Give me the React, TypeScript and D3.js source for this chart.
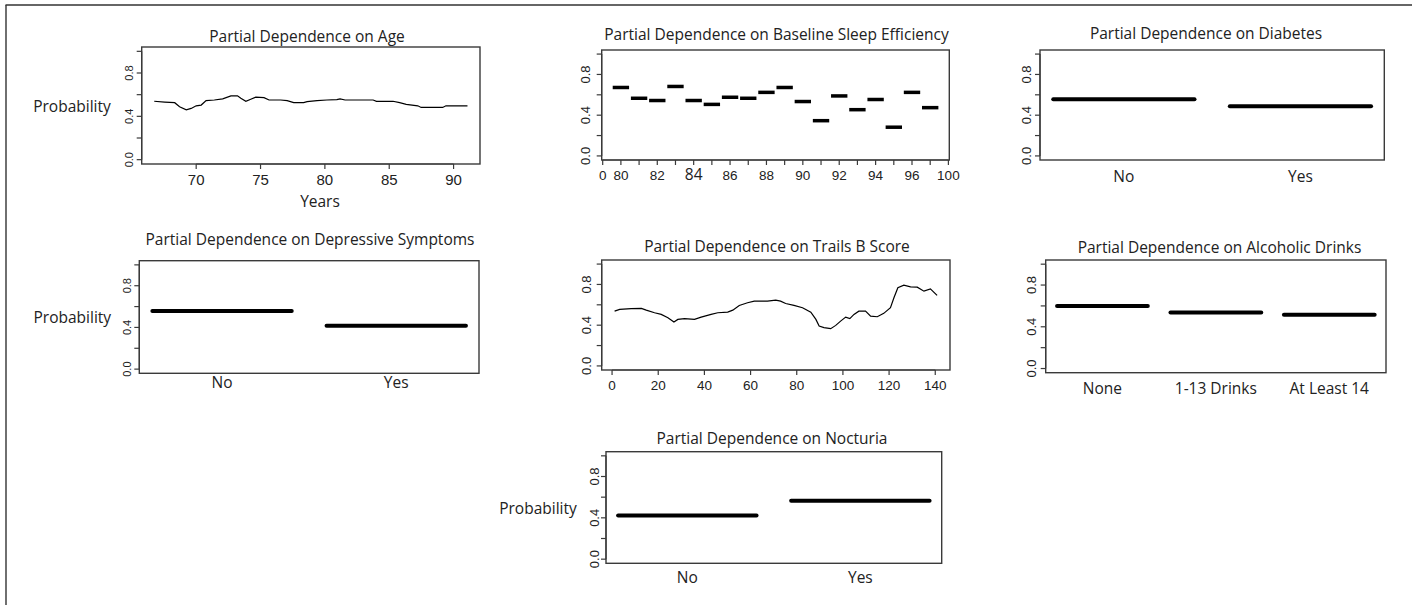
import React from "react";
import * as d3 from "d3";

// ---------- data ----------
const ageYears = [66.74, 67.55, 68.33, 68.71, 69.23, 69.61, 70.0, 70.39, 70.77, 71.41, 72.06, 72.7, 73.21, 73.47, 73.86, 74.24, 74.63, 75.27, 75.66, 76.56, 77.07, 77.58, 78.35, 78.62, 79.39, 80.16, 80.93, 81.18, 81.57, 83.75, 84.01, 85.29, 85.81, 86.32, 87.22, 87.48, 89.15, 89.41, 91.08];
const ageProb = [0.539, 0.532, 0.526, 0.488, 0.46, 0.473, 0.497, 0.504, 0.545, 0.551, 0.561, 0.589, 0.589, 0.567, 0.539, 0.558, 0.577, 0.573, 0.551, 0.551, 0.545, 0.526, 0.526, 0.535, 0.545, 0.551, 0.554, 0.561, 0.551, 0.551, 0.539, 0.539, 0.526, 0.511, 0.497, 0.482, 0.482, 0.497, 0.497];
const ageTicks = [70, 75, 80, 85, 90];

const sleepLevels = [1, 2, 3, 4, 5, 6, 7, 8, 9, 10, 11, 12, 13, 14, 15, 16, 17, 18];
const sleepProb = [0.672, 0.566, 0.544, 0.682, 0.544, 0.506, 0.576, 0.566, 0.624, 0.672, 0.534, 0.346, 0.589, 0.454, 0.554, 0.282, 0.624, 0.474];
const sleepTicks = [0, 1, 2, 3, 4, 5, 6, 7, 8, 9, 10, 11, 12, 13, 14, 15, 16, 17, 18, 19];
const sleepTickLabels = ["0", "80", "", "82", "", "84", "", "86", "", "88", "", "90", "", "92", "", "94", "", "96", "", "100"];

const diabetesCats = ["No", "Yes"];
const diabetesProb = [0.556, 0.487];

const depressCats = ["No", "Yes"];
const depressProb = [0.558, 0.416];

const trailsScore = [1.1, 3.3, 8.3, 12.7, 14.8, 18.4, 21.3, 24.2, 26.8, 28.5, 31.4, 35.7, 38.6, 42.9, 45.8, 50.1, 52.3, 55.1, 58.7, 61.6, 67.3, 70.9, 73.0, 75.2, 78.8, 82.5, 86.1, 88.3, 89.7, 91.8, 94.7, 96.9, 99.0, 101.2, 103.0, 104.8, 106.9, 109.8, 112.0, 114.9, 117.7, 120.6, 122.1, 123.8, 126.4, 129.3, 132.2, 135.1, 137.9, 140.8];
const trailsProb = [0.538, 0.555, 0.562, 0.565, 0.548, 0.522, 0.506, 0.474, 0.431, 0.457, 0.464, 0.457, 0.479, 0.506, 0.522, 0.528, 0.548, 0.594, 0.62, 0.636, 0.636, 0.646, 0.636, 0.613, 0.594, 0.571, 0.528, 0.457, 0.391, 0.376, 0.366, 0.398, 0.44, 0.479, 0.464, 0.506, 0.538, 0.538, 0.489, 0.483, 0.516, 0.571, 0.669, 0.767, 0.793, 0.777, 0.773, 0.734, 0.757, 0.692];
const trailsTicks = [0, 20, 40, 60, 80, 100, 120, 140];

const alcoholCats = ["None", "1-13 Drinks", "At Least 14"];
const alcoholProb = [0.6, 0.537, 0.515];

const nocturiaCats = ["No", "Yes"];
const nocturiaProb = [0.422, 0.565];

const yTicks = [0, 0.2, 0.4, 0.6, 0.8, 1.0];
const yLabelTicks = [0, 0.4, 0.8];

// ---------- styling ----------
const SANS = "'Open Sans', sans-serif";
const ARIAL = "'Liberation Sans', Arial, sans-serif";
const TXT = "#222";
const BOX = "#3a3a3a";

type Box = { x0: number; y0: number; x1: number; y1: number };

function extendR(ext: [number, number]): [number, number] {
  const d = (ext[1] - ext[0]) * 0.04;
  return [ext[0] - d, ext[1] + d];
}

function Frame({ box, title, titleX, titleY, yLabelDx, yFont, ylab, ylabX, children }: any) {
  const y = d3.scaleLinear().domain([-0.04, 1.04]).range([box.y1, box.y0]);
  return (
    <g>
      <text x={titleX} y={titleY} textAnchor="middle" fontFamily={SANS} fontSize={15.5} fill={TXT}>{title}</text>
      <rect x={box.x0} y={box.y0} width={box.x1 - box.x0} height={box.y1 - box.y0} fill="none" stroke={BOX} strokeWidth={1.4} />
      <line x1={box.x0} x2={box.x0} y1={y(0)} y2={y(1)} stroke={BOX} strokeWidth={1.2} />
      {yTicks.map((t) => (
        <line key={t} x1={box.x0 - 5} x2={box.x0} y1={y(t)} y2={y(t)} stroke={BOX} strokeWidth={1.2} />
      ))}
      {yLabelTicks.map((t) => (
        <text key={t} transform={`translate(${box.x0 + yLabelDx},${y(t)}) rotate(-90)`} textAnchor="middle" dominantBaseline="central" fontFamily={ARIAL} fontSize={yFont} fill={TXT}>{t.toFixed(1)}</text>
      ))}
      {ylab && (
        <text x={ylabX} y={(y(0.4) + y(0.6)) / 2} textAnchor="middle" dominantBaseline="central" fontFamily={SANS} fontSize={15.5} fill={TXT}>Probability</text>
      )}
      {children(y)}
    </g>
  );
}

function NumXAxis({ box, x, ticks, labels, font, labelDy, special }: any) {
  return (
    <g>
      <line x1={x(ticks[0])} x2={x(ticks[ticks.length - 1])} y1={box.y1} y2={box.y1} stroke={BOX} strokeWidth={1.2} />
      {ticks.map((t: number, i: number) => (
        <g key={i}>
          <line x1={x(t)} x2={x(t)} y1={box.y1} y2={box.y1 + 5} stroke={BOX} strokeWidth={1.2} />
          <text x={x(t)} y={box.y1 + labelDy} textAnchor="middle" fontFamily={special && labels[i] === special ? SANS : ARIAL} fontSize={special && labels[i] === special ? font + 2 : font} fill={TXT}>{labels[i]}</text>
        </g>
      ))}
    </g>
  );
}

function CatPanel({ box, cats, vals, title, titleX, titleY, yLabelDx, yFont, ylab, ylabX, labelDy, padOuter }: any) {
  const x = d3.scaleBand<string>().domain(cats).range([box.x0, box.x1]).paddingInner(0.2).paddingOuter(padOuter);
  return (
    <Frame box={box} title={title} titleX={titleX} titleY={titleY} yLabelDx={yLabelDx} yFont={yFont} ylab={ylab} ylabX={ylabX}>
      {(y: any) => (
        <g>
          {cats.map((c: string, i: number) => (
            <g key={c}>
              <line x1={x(c)!} x2={x(c)! + x.bandwidth()} y1={y(vals[i])} y2={y(vals[i])} stroke="#000" strokeWidth={4} strokeLinecap="round" />
              <text x={x(c)! + x.bandwidth() / 2} y={box.y1 + labelDy} textAnchor="middle" fontFamily={SANS} fontSize={15.5} fill={TXT}>{c}</text>
            </g>
          ))}
        </g>
      )}
    </Frame>
  );
}

export default function App() {
  // Panel 1: Age
  const b1: Box = { x0: 141.7, y0: 47, x1: 480, y1: 164 };
  const x1 = d3.scaleLinear().domain(extendR(d3.extent(ageYears) as [number, number])).range([b1.x0, b1.x1]);
  // Panel 2: sleep efficiency
  const b2: Box = { x0: 601.7, y0: 50, x1: 949.3, y1: 160 };
  const x2 = d3.scaleLinear().domain([-0.055, 19.05]).range([b2.x0, b2.x1]);
  // Panel 3: diabetes
  const b3: Box = { x0: 1040, y0: 50, x1: 1384.3, y1: 160 };
  // Panel 4: depressive
  const b4: Box = { x0: 139.3, y0: 260.7, x1: 479, y1: 373.3 };
  // Panel 5: trails
  const b5: Box = { x0: 601.7, y0: 260, x1: 950, y1: 370 };
  const x5 = d3.scaleLinear().domain(extendR(d3.extent(trailsScore) as [number, number])).range([b5.x0, b5.x1]);
  // Panel 6: alcohol
  const b6: Box = { x0: 1045.7, y0: 260, x1: 1386, y1: 372.7 };
  // Panel 7: nocturia
  const b7: Box = { x0: 606, y0: 451.7, x1: 941.7, y1: 563.3 };

  return (
    <svg width={1412} height={605} style={{ position: "absolute", left: 0, top: 0, background: "#fff" }}>
      <rect x={0} y={0} width={1412} height={605} fill="#fff" />
      <line x1={5.5} x2={1412} y1={5} y2={5} stroke="#333" strokeWidth={1.4} />
      <line x1={6} x2={6} y1={5} y2={605} stroke="#333" strokeWidth={1.4} />

      <Frame box={b1} title="Partial Dependence on Age" titleX={307} titleY={42} yLabelDx={-12.4} yFont={11} ylab ylabX={72}>
        {(y: any) => {
          const line = d3.line<number>().x((_, i) => x1(ageYears[i])).y((d) => y(d));
          return (
            <g>
              <path d={line(ageProb)!} fill="none" stroke="#000" strokeWidth={1.2} />
              <NumXAxis box={b1} x={x1} ticks={ageTicks} labels={ageTicks.map(String)} font={15} labelDy={21} />
              <text x={320} y={207} textAnchor="middle" fontFamily={SANS} fontSize={15.5} fill={TXT}>Years</text>
            </g>
          );
        }}
      </Frame>

      <Frame box={b2} title="Partial Dependence on Baseline Sleep Efficiency" titleX={776.5} titleY={40} yLabelDx={-16} yFont={13} ylab={false}>
        {(y: any) => (
          <g>
            {sleepLevels.map((lv, i) => (
              <line key={lv} x1={x2(lv - 0.45)} x2={x2(lv + 0.45)} y1={y(sleepProb[i])} y2={y(sleepProb[i])} stroke="#000" strokeWidth={3.5} />
            ))}
            <NumXAxis box={b2} x={x2} ticks={sleepTicks} labels={sleepTickLabels} font={13.5} labelDy={20} special="84" />
          </g>
        )}
      </Frame>

      <CatPanel box={b3} cats={diabetesCats} vals={diabetesProb} title="Partial Dependence on Diabetes" titleX={1206} titleY={39} yLabelDx={-14} yFont={13} ylab={false} labelDy={22} padOuter={0.075} />

      <CatPanel box={b4} cats={depressCats} vals={depressProb} title="Partial Dependence on Depressive Symptoms" titleX={310} titleY={245} yLabelDx={-12.6} yFont={11} ylab ylabX={72.3} labelDy={15} padOuter={0.075} />

      <Frame box={b5} title="Partial Dependence on Trails B Score" titleX={777} titleY={251.7} yLabelDx={-15.7} yFont={13} ylab={false}>
        {(y: any) => {
          const line = d3.line<number>().x((_, i) => x5(trailsScore[i])).y((d) => y(d));
          return (
            <g>
              <path d={line(trailsProb)!} fill="none" stroke="#000" strokeWidth={1.2} />
              <NumXAxis box={b5} x={x5} ticks={trailsTicks} labels={trailsTicks.map(String)} font={13.5} labelDy={20} />
            </g>
          );
        }}
      </Frame>

      <CatPanel box={b6} cats={alcoholCats} vals={alcoholProb} title="Partial Dependence on Alcoholic Drinks" titleX={1219.5} titleY={252.7} yLabelDx={-14} yFont={13} ylab={false} labelDy={21.3} padOuter={0.1} />

      <CatPanel box={b7} cats={nocturiaCats} vals={nocturiaProb} title="Partial Dependence on Nocturia" titleX={772} titleY={444} yLabelDx={-12} yFont={13} ylab ylabX={538} labelDy={20} padOuter={0.07} />
    </svg>
  );
}
